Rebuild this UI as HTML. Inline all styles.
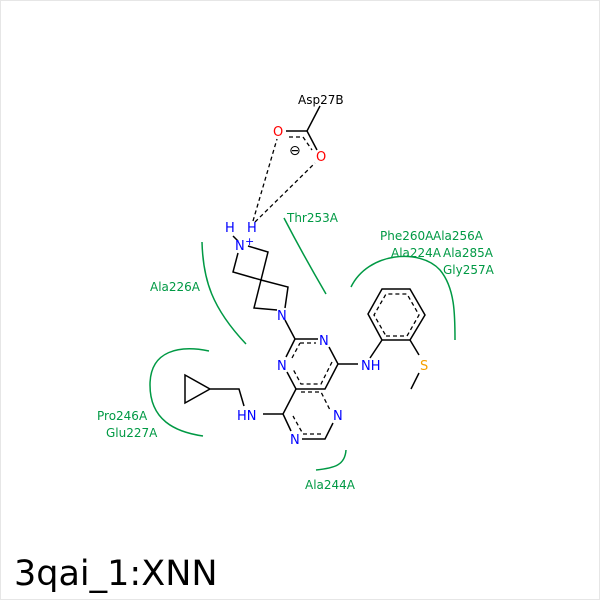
<!DOCTYPE html>
<html><head><style>
html,body{margin:0;padding:0;background:#fff}
svg{display:block}
text{font-family:"DejaVu Sans","Liberation Sans",sans-serif}
</style></head><body>
<svg width="600" height="600" viewBox="0 0 600 600" xmlns="http://www.w3.org/2000/svg">
<rect x="0.5" y="0.5" width="599" height="599" fill="#fff" stroke="#e6e6e6"/>
<g fill="none" stroke="#009944" stroke-width="1.5">
<path d="M202,242 C203,280 212,308 246,344"/>
<path d="M284,218 C298,245 312,270 326,294"/>
<path d="M351,287 C368,252 420,248 440,270 C455,288 455,315 455,340"/>
<path d="M209,351 C180,345 150,350 150,385 C150,420 175,432 203,436"/>
<path d="M346,450 C345,465 335,468 316,470"/>
</g>
<g fill="#009944" font-size="12">
<text x="287" y="222">Thr253A</text>
<text x="150" y="291">Ala226A</text>
<text x="380" y="240">Phe260A</text><text x="433" y="240">Ala256A</text>
<text x="391" y="257">Ala224A</text><text x="443" y="257">Ala285A</text>
<text x="443" y="274">Gly257A</text>
<text x="97" y="420">Pro246A</text>
<text x="106" y="437">Glu227A</text>
<text x="305" y="489">Ala244A</text>
</g>
<g fill="none" stroke="#000" stroke-width="1.5">
<path d="M320,106 L307,131 L317,150"/>
<path d="M286,131 L307,131"/>
<path d="M248,246 L268,252 L261,280 L233,272 L238,253"/>
<path d="M261,280 L288,287 L285,308 M277,310 L254,308 L261,280"/>
<path d="M285,320 L295,339 L318,339 M329,347 L338,364 L325,389 L296,389 L287,372 M286,357 L295,339"/>
<path d="M296,389 L283,414 L291,431 M302,439 L325,439 L333,423"/>
<path d="M338,364 L358,364 M382,340 L370,358 M382,340 L410,340 L425,315 L410,289 L382,289 L368,314 L382,340"/>
<path d="M410,340 L419,355 M419,373 L411,389"/>
<path d="M283,414 L263,414 M244,406 L239,389 L210,389 L185,375 L185,403 L210,389"/>
<path d="M233,236 L238,241"/>
</g>
<g fill="none" stroke="#000" stroke-width="1.3" stroke-dasharray="4,3">
<path d="M289,137 L303,137 L312,150"/>
<path d="M300,343 L316,343 M332,362 L321,384 L301,384 L293,369 M292,358 L300,343"/>
<path d="M301,392 L321,392 L330,410 M321,434 L303,434 L293,416"/>
<path d="M386,336 L407,336 L419,315 L407,294 L386,294 L374,315 L386,336"/>
<path d="M253,221 L277,139 M255,222 L315,163"/>
</g>
<g font-size="13">
<text x="298" y="104" fill="#000" font-size="12">Asp27B</text>
<text x="273" y="136" fill="#f00">O</text>
<text x="316" y="161" fill="#f00">O</text>
<text x="289" y="155" fill="#000" font-size="14">⊖</text>
<text x="225" y="232" fill="#00f">H</text>
<text x="247" y="232" fill="#00f">H</text>
<text x="235" y="250" fill="#00f">N</text>
<text x="245" y="245" fill="#00f" font-size="11">+</text>
<text x="277" y="320" fill="#00f">N</text>
<text x="319" y="345" fill="#00f">N</text>
<text x="277" y="370" fill="#00f">N</text>
<text x="333" y="420" fill="#00f">N</text>
<text x="290" y="444" fill="#00f">N</text>
<text x="361" y="370" fill="#00f">NH</text>
<text x="237" y="420" fill="#00f">HN</text>
<text x="420" y="370" fill="#f5a000">S</text>
</g>
<text x="14" y="585" font-size="35" fill="#000">3qai_1:XNN</text>
</svg>
</body></html>
